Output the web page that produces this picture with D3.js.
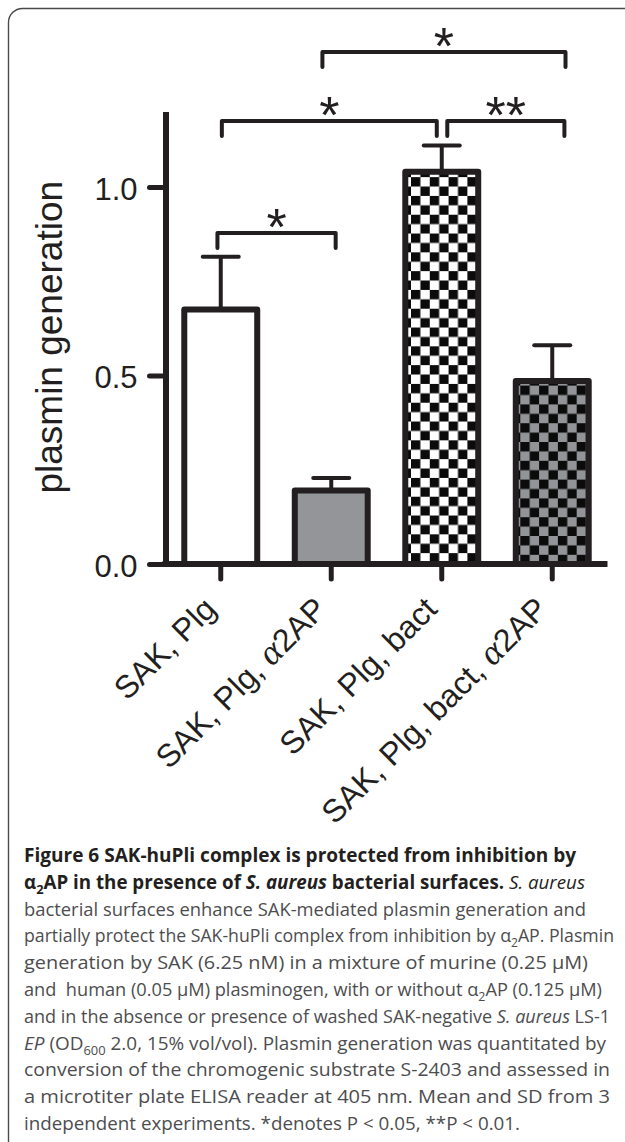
<!DOCTYPE html>
<html><head><meta charset="utf-8">
<script src="https://cdn.jsdelivr.net/npm/d3@7"></script>
<style>body{margin:0;background:#fff} svg{display:block}</style>
</head><body>
<svg id="chart" width="625" height="1142"></svg>
<script>
// ---------- data ----------
const categories = ["SAK, Plg", "SAK, Plg, α2AP", "SAK, Plg, bact", "SAK, Plg, bact, α2AP"];
const means = [0.675, 0.195, 1.04, 0.485];
const sds = [0.14, 0.033, 0.07, 0.095];
const yTicks = [0.0, 0.5, 1.0];
const yLabel = "plasmin generation";
// significance brackets: ends in category-index units, level in data units
const bracketFrom = [-0.03, 0.01, 2.05, 0.92];
const bracketTo = [1.04, 1.955, 3.11, 3.12];
const bracketLevel = [0.878, 1.175, 1.175, 1.358];
const bracketText = ["*", "*", "**", "*"];

const captionLines = [
  [{t:"Figure 6 SAK-huPli complex is protected from inhibition by", b:1}],
  [{t:"α", b:1},{t:"2", b:1, sub:1},{t:"AP in the presence of ", b:1},{t:"S. aureus", b:1, i:1},{t:" bacterial surfaces.", b:1},{t:" S. aureus", i:1}],
  [{t:"bacterial surfaces enhance SAK-mediated plasmin generation and"}],
  [{t:"partially protect the SAK-huPli complex from inhibition by α"},{t:"2", sub:1},{t:"AP. Plasmin"}],
  [{t:"generation by SAK (6.25 nM) in a mixture of murine (0.25 μM)"}],
  [{t:"and  human (0.05 μM) plasminogen, with or without α"},{t:"2", sub:1},{t:"AP (0.125 μM)"}],
  [{t:"and in the absence or presence of washed SAK-negative "},{t:"S. aureus", i:1},{t:" LS-1"}],
  [{t:"EP", i:1},{t:" (OD"},{t:"600", sub:1},{t:" 2.0, 15% vol/vol). Plasmin generation was quantitated by"}],
  [{t:"conversion of the chromogenic substrate S-2403 and assessed in"}],
  [{t:"a microtiter plate ELISA reader at 405 nm. Mean and SD from 3"}],
  [{t:"independent experiments. *denotes P < 0.05, **P < 0.01."}]
];
const captionRight = [576, 585, 586, 614, 588, 602, 610, 606, 610, 610, 520];

// ---------- layout ----------
const ink = "#231f20";
const svg = d3.select("#chart");
const plotL = 165.5, plotR = 607.5, plotB = 564, plotT = 111.5;

svg.append("rect").attr("x", 8.5).attr("y", 8.5).attr("width", 680).attr("height", 1200)
  .attr("rx", 14).attr("fill", "none").attr("stroke", "#4a4a4a").attr("stroke-width", 1.4);

const x = d3.scaleBand().domain(categories).range([plotL, plotR]).paddingInner(0.34).paddingOuter(0.17);
const y = d3.scaleLinear().domain([0, 1.2]).range([plotB, plotT]);
const xi = d3.scaleLinear().domain([0, 1]).range([x(categories[0]) + x.bandwidth()/2, x(categories[1]) + x.bandwidth()/2]);
const bw = x.bandwidth();

// patterns
const defs = svg.append("defs");
const cell = 9.4;
function checker(id, bg, cx, cy) {
  const p = defs.append("pattern").attr("id", id).attr("patternUnits", "userSpaceOnUse")
    .attr("width", cell*2).attr("height", cell*2).attr("x", cx).attr("y", cy);
  p.append("rect").attr("width", cell*2).attr("height", cell*2).attr("fill", bg);
  p.append("rect").attr("width", cell).attr("height", cell).attr("fill", "#0b0b0c");
  p.append("rect").attr("x", cell).attr("y", cell).attr("width", cell).attr("height", cell).attr("fill", "#0b0b0c");
}
checker("chk", "#ffffff", x(categories[2]) + 5.7, y(means[2]) + 5.3);
checker("gchk", "#929497", x(categories[3]) + 4.5, y(means[3]) + 4.5);
const fills = ["#ffffff", "#939598", "url(#chk)", "url(#gchk)"];

// error bars
const eb = svg.append("g").attr("stroke", ink).attr("stroke-width", 4).attr("stroke-linecap", "round");
categories.forEach((c, i) => {
  const cx = x(c) + bw/2;
  eb.append("line").attr("x1", cx).attr("x2", cx).attr("y1", y(means[i])).attr("y2", y(means[i] + sds[i])).attr("stroke-linecap", "butt");
  eb.append("line").attr("x1", cx - 18).attr("x2", cx + 18).attr("y1", y(means[i] + sds[i])).attr("y2", y(means[i] + sds[i]));
});

// bars
svg.append("g").selectAll("rect").data(categories).join("rect")
  .attr("x", d => x(d)).attr("width", bw)
  .attr("y", (d, i) => y(means[i])).attr("height", (d, i) => y(0) - y(means[i]))
  .attr("fill", (d, i) => fills[i]).attr("stroke", ink).attr("stroke-width", 6).attr("stroke-linejoin", "round");

// y axis
const ya = svg.append("g").attr("transform", `translate(${plotL},0)`)
  .call(d3.axisLeft(y).tickValues(yTicks).tickSize(16).tickSizeOuter(0).tickPadding(12).tickFormat(d3.format(".1f")));
ya.select(".domain").attr("stroke", ink).attr("stroke-width", 6);
ya.selectAll(".tick line").attr("stroke", ink).attr("stroke-width", 5).attr("stroke-linecap", "round").attr("x1", -3);
ya.selectAll(".tick text").attr("fill", ink).attr("font-size", 31).attr("font-family", "Liberation Sans, Arial, sans-serif").attr("dy", "0.4em");

// x axis
const xa = svg.append("g").attr("transform", `translate(0,${plotB})`)
  .call(d3.axisBottom(x).tickSize(17).tickSizeOuter(0).tickPadding(0));
xa.select(".domain").attr("stroke", ink).attr("stroke-width", 6).attr("d", `M${plotL - 3},0H${plotR}`);
xa.selectAll(".tick line").attr("stroke", ink).attr("stroke-width", 5).attr("stroke-linecap", "round").attr("y1", 3).attr("y2", 15);
xa.selectAll(".tick text").each(function(d) {
  const t = d3.select(this);
  t.text(null).attr("fill", ink).attr("font-size", 32).attr("font-family", "Liberation Sans, Arial, sans-serif")
    .attr("text-anchor", "end").attr("y", 0).attr("dy", 0).attr("transform", "translate(-3,47) rotate(-45)");
  const parts = d.split("α");
  parts.forEach((p, k) => {
    if (k > 0) t.append("tspan").attr("font-family", "Liberation Serif, serif").attr("font-style", "italic").attr("font-size", 36).text("α");
    if (p) t.append("tspan").text(p);
  });
});

// y label
svg.append("text").attr("transform", `translate(62,${(y(0) + y(1.2))/2 - 0.5}) rotate(-90)`)
  .attr("text-anchor", "middle").attr("font-size", 37).attr("fill", ink)
  .attr("font-family", "Liberation Sans, Arial, sans-serif").text(yLabel);

// significance brackets
const br = svg.append("g");
bracketText.forEach((s, i) => {
  const x1 = xi(bracketFrom[i]), x2 = xi(bracketTo[i]), yy = y(bracketLevel[i]);
  br.append("path").attr("d", `M${x1},${yy + 15}V${yy}H${x2}V${yy + 15}`)
    .attr("fill", "none").attr("stroke", ink).attr("stroke-width", 4).attr("stroke-linejoin", "round").attr("stroke-linecap", "round");
  br.append("text").attr("x", (x1 + x2)/2).attr("y", yy + 12).attr("text-anchor", "middle")
    .attr("font-size", 52).attr("font-family", "Liberation Sans, Arial, sans-serif").attr("fill", ink).text(s);
});

// caption
const cap = svg.append("g").attr("font-family", "Open Sans, Noto Sans, sans-serif").attr("font-size", 19).attr("fill", ink);
const capLeft = 24, capTop = 862, capStep = 26.8;
captionLines.forEach((line, i) => {
  const t = cap.append("text").attr("x", capLeft).attr("y", capTop + i*capStep)
    .attr("textLength", captionRight[i] - capLeft).attr("lengthAdjust", "spacingAndGlyphs")
    .style("white-space", "pre").attr("fill", i < 2 ? "#231f20" : "#4d4d4f");
  line.forEach(seg => {
    const ts = t.append("tspan").text(seg.t);
    if (seg.b) ts.attr("font-weight", 700).attr("fill", "#231f20");
    if (seg.i) ts.attr("font-style", "italic");
    if (seg.sub) {
      ts.attr("font-size", 13).attr("dy", 5);
    }
  });
  // restore baseline after subscripts
  t.selectAll("tspan").each(function(d, k, nodes) {
    const prev = k > 0 ? nodes[k-1] : null;
    if (prev && prev.getAttribute("dy") === "5" && this.getAttribute("dy") === null) d3.select(this).attr("dy", -5);
  });
});
</script>
</body></html>
